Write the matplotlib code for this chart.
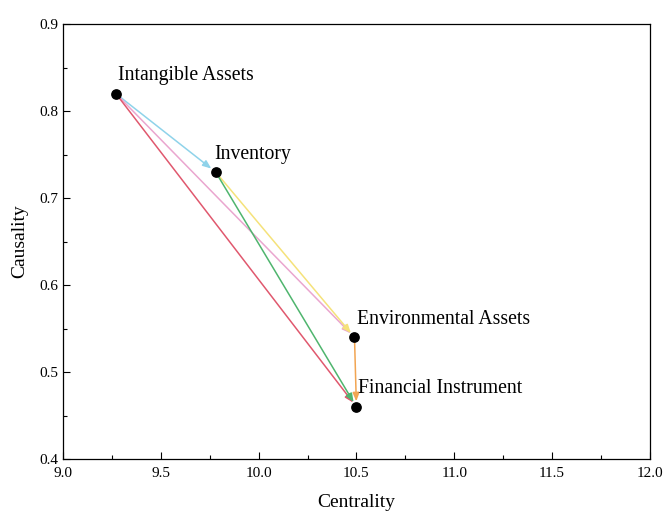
import matplotlib
matplotlib.use("Agg")
import matplotlib.pyplot as plt

plt.rcParams['font.family'] = ['Liberation Serif', 'DejaVu Serif']

names = ["Intangible Assets", "Inventory", "Environmental Assets", "Financial Instrument"]
centrality = [9.27, 9.78, 10.49, 10.50]
causality = [0.82, 0.73, 0.54, 0.46]

# directed influence links: (source index, target index, colour)
links_src = [0, 0, 0, 1, 1, 2]
links_dst = [1, 2, 3, 2, 3, 3]
link_colors = ["#8fd3ea", "#eaa6cf", "#e0586e", "#f5e27a", "#4fb56e", "#f2a552"]

xticks = [9.0, 9.5, 10.0, 10.5, 11.0, 11.5, 12.0]
yticks = [0.4, 0.5, 0.6, 0.7, 0.8, 0.9]

fig = plt.figure(figsize=(6.65, 5.13), dpi=100)
ax = fig.add_axes([0.095, 0.105, 0.882, 0.848])

for s, d, c in zip(links_src, links_dst, link_colors):
    ax.annotate("", xy=(centrality[d], causality[d]), xytext=(centrality[s], causality[s]),
                arrowprops=dict(arrowstyle="-|>,head_length=0.5,head_width=0.2", color=c,
                                lw=1.1, shrinkA=3, shrinkB=4), zorder=2)

ax.scatter(centrality, causality, s=45, color="black", zorder=3)

label_offsets = [(0.01, 0.016), (-0.005, 0.015), (0.015, 0.015), (0.01, 0.016)]
for n, x, y, (dx, dy) in zip(names, centrality, causality, label_offsets):
    ax.text(x + dx, y + dy, n, fontsize=14.2, ha="left", va="baseline")

ax.set_xlim(9.0, 12.0)
ax.set_ylim(0.4, 0.9)
ax.set_xticks(xticks)
ax.set_yticks(yticks)
ax.set_xticklabels([f"{v:.1f}" for v in xticks])
ax.set_yticklabels([f"{v:.1f}" for v in yticks])
ax.set_xticks([9.25, 9.75, 10.25, 10.75, 11.25, 11.75], minor=True)
ax.set_yticks([0.45, 0.55, 0.65, 0.75, 0.85], minor=True)
ax.tick_params(axis="both", which="major", direction="in", length=5, labelsize=11, width=0.8)
ax.tick_params(axis="both", which="minor", direction="in", length=3, width=0.8)
ax.tick_params(axis="x", pad=6)
for sp in ax.spines.values():
    sp.set_linewidth(0.9)

ax.set_xlabel("Centrality", fontsize=14, labelpad=10)
ax.set_ylabel("Causality", fontsize=14, labelpad=8)

fig.savefig("out.png", dpi=100)
